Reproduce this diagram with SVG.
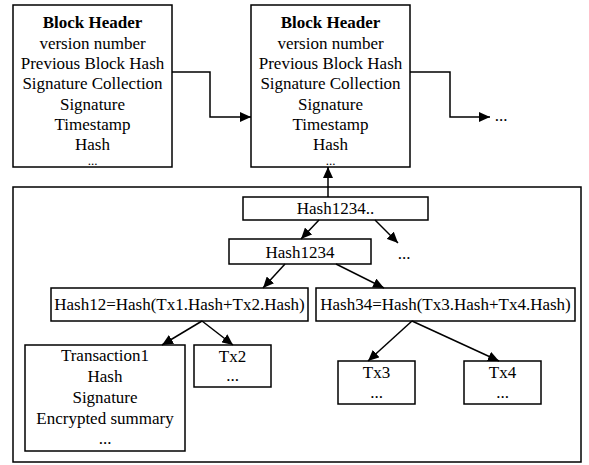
<svg xmlns="http://www.w3.org/2000/svg" width="589" height="465" viewBox="0 0 589 465">
<style>
  .box { fill: #fff; stroke: #000; stroke-width: 1.5; }
  .t { font-family: "Liberation Serif", "Times New Roman", serif; font-size: 17px; fill: #000; text-anchor: middle; }
  .b { font-weight: bold; }
  .d { font-size: 13px; }
  .c { fill: none; stroke: #000; stroke-width: 1.5; }
</style>
<defs>
  <marker id="ah" markerUnits="userSpaceOnUse" markerWidth="12" markerHeight="10" refX="11" refY="5" orient="auto">
    <path d="M0,0 L11,5 L0,10 Z" fill="#000"/>
  </marker>
</defs>
<rect width="589" height="465" fill="#fff"/>
<g id="container"><rect class="box" x="13" y="187" width="568" height="275"/></g>
<g id="block1">
  <rect class="box" x="13" y="5" width="159" height="162"/>
  <text class="t b" x="92.5" y="28">Block Header</text>
  <text class="t" x="92.5" y="49">version number</text>
  <text class="t" x="92.5" y="69">Previous Block Hash</text>
  <text class="t" x="92.5" y="89">Signature Collection</text>
  <text class="t" x="92.5" y="110">Signature</text>
  <text class="t" x="92.5" y="130">Timestamp</text>
  <text class="t" x="92.5" y="150">Hash</text>
  <text class="t d" x="92.5" y="165">...</text>
</g>
<g id="block2">
  <rect class="box" x="251" y="5" width="159" height="162"/>
  <text class="t b" x="330.5" y="28">Block Header</text>
  <text class="t" x="330.5" y="49">version number</text>
  <text class="t" x="330.5" y="69">Previous Block Hash</text>
  <text class="t" x="330.5" y="89">Signature Collection</text>
  <text class="t" x="330.5" y="110">Signature</text>
  <text class="t" x="330.5" y="130">Timestamp</text>
  <text class="t" x="330.5" y="150">Hash</text>
  <text class="t d" x="330.5" y="165">...</text>
</g>
<g id="next"><text class="t" x="501" y="121">...</text></g>
<g id="root"><rect class="box" x="243" y="197" width="185" height="23"/><text class="t" x="335.5" y="214">Hash1234..</text></g>
<g id="h1234"><rect class="box" x="229" y="239" width="142" height="25"/><text class="t" x="300" y="258">Hash1234</text></g>
<g id="more"><text class="t" x="404" y="259">...</text></g>
<g id="h12"><rect class="box" x="51" y="288" width="257" height="33"/><text class="t" x="179.5" y="310">Hash12=Hash(Tx1.Hash+Tx2.Hash)</text></g>
<g id="h34"><rect class="box" x="316" y="288" width="259" height="33"/><text class="t" x="445.5" y="310">Hash34=Hash(Tx3.Hash+Tx4.Hash)</text></g>
<g id="tx1">
  <rect class="box" x="25" y="345" width="160" height="106"/>
  <text class="t" x="105" y="361">Transaction1</text>
  <text class="t" x="105" y="382">Hash</text>
  <text class="t" x="105" y="403">Signature</text>
  <text class="t" x="105" y="424">Encrypted summary</text>
  <text class="t" x="105" y="444">...</text>
</g>
<g id="tx2"><rect class="box" x="194" y="345" width="77" height="42"/><text class="t" x="232.5" y="362">Tx2</text><text class="t" x="232.5" y="381">...</text></g>
<g id="tx3"><rect class="box" x="338" y="361" width="77" height="43"/><text class="t" x="376.5" y="378">Tx3</text><text class="t" x="376.5" y="398">...</text></g>
<g id="tx4"><rect class="box" x="464" y="361" width="77" height="43"/><text class="t" x="502.5" y="378">Tx4</text><text class="t" x="502.5" y="398">...</text></g>
<g id="connectors">
  <path class="c" d="M172,72 H210 V117 H251" marker-end="url(#ah)"/>
  <path class="c" d="M410,72 H450 V117 H490" marker-end="url(#ah)"/>
  <path class="c" d="M328,197 V167" marker-end="url(#ah)"/>
  <path class="c" d="M319,220 L301,239" marker-end="url(#ah)"/>
  <path class="c" d="M375,220 L398,243" marker-end="url(#ah)"/>
  <path class="c" d="M285,264 L263,288" marker-end="url(#ah)"/>
  <path class="c" d="M336,264 L384,288" marker-end="url(#ah)"/>
  <path class="c" d="M202,321 L162,345" marker-end="url(#ah)"/>
  <path class="c" d="M202,321 L233,345" marker-end="url(#ah)"/>
  <path class="c" d="M412,321 L368,361" marker-end="url(#ah)"/>
  <path class="c" d="M412,321 L499,361" marker-end="url(#ah)"/>
</g>
</svg>
